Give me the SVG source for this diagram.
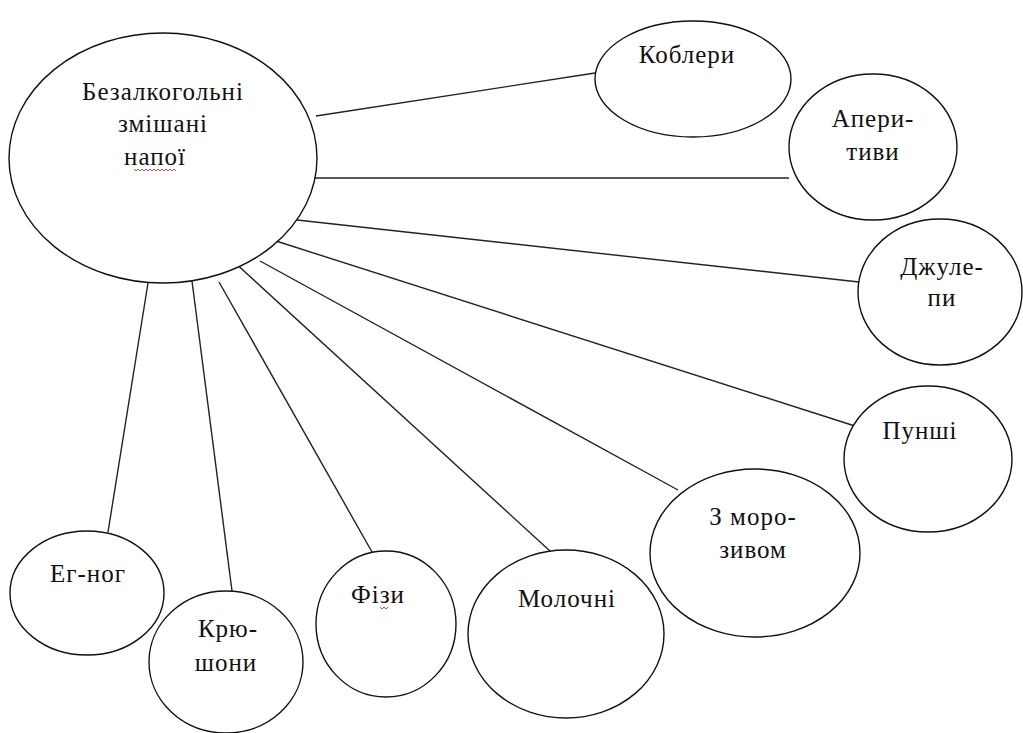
<svg xmlns="http://www.w3.org/2000/svg" width="1023" height="733" viewBox="0 0 1023 733">
<style>
.n{fill:#fff;stroke:#111;stroke-width:1.4}
.c line{stroke:#222;stroke-width:1.4}
.t{font-family:'Liberation Serif','Times New Roman','DejaVu Serif',serif;font-size:25px;fill:#111;text-anchor:middle;letter-spacing:1px}
.sq{fill:none;stroke:#d33;stroke-width:0.9}
</style>
<rect width="1023" height="733" fill="#fff"/>
<g id="connectors" class="c">
<line x1="316" y1="116" x2="595" y2="73"/>
<line x1="315" y1="178" x2="789" y2="178"/>
<line x1="288" y1="219" x2="859" y2="282"/>
<line x1="276" y1="241" x2="858" y2="427"/>
<line x1="260" y1="261" x2="678" y2="490"/>
<line x1="233" y1="261" x2="550" y2="551"/>
<line x1="219" y1="282" x2="372" y2="552"/>
<line x1="192" y1="281" x2="232" y2="591"/>
<line x1="148" y1="283" x2="108" y2="532"/>
</g>
<g id="main">
<ellipse class="n" cx="163" cy="158" rx="154" ry="125"/>
<text class="t" x="163" y="100">Безалкогольні</text>
<text class="t" x="163" y="132">змішані</text>
<text class="t" x="155" y="165">напої</text>
<path class="sq" d="M134 169 l2 2 l2 -2 l2 2 l2 -2 l2 2 l2 -2 l2 2 l2 -2 l2 2 l2 -2 l2 2 l2 -2 l2 2 l2 -2 l2 2 l2 -2 l2 2 l2 -2 l2 2 l2 -2 l2 2"/>
</g>
<g id="koblery">
<ellipse class="n" cx="693" cy="79" rx="98" ry="58"/>
<text class="t" x="687" y="63">Коблери</text>
</g>
<g id="aperytyvy">
<ellipse class="n" cx="873" cy="147" rx="84" ry="73"/>
<text class="t" x="873" y="127">Апери-</text>
<text class="t" x="873" y="160">тиви</text>
</g>
<g id="dzhulepy">
<ellipse class="n" cx="940" cy="292" rx="82" ry="73"/>
<text class="t" x="942" y="275">Джуле-</text>
<text class="t" x="942" y="306">пи</text>
</g>
<g id="punshi">
<ellipse class="n" cx="928" cy="459" rx="84" ry="73"/>
<text class="t" x="920" y="439">Пунші</text>
</g>
<g id="z-morozyvom">
<ellipse class="n" cx="755" cy="553" rx="105" ry="84"/>
<text class="t" x="753" y="525">З моро-</text>
<text class="t" x="753" y="558">зивом</text>
</g>
<g id="molochni">
<ellipse class="n" cx="566" cy="634" rx="98" ry="84"/>
<text class="t" x="567" y="607">Молочні</text>
</g>
<g id="fizy">
<ellipse class="n" cx="386" cy="624" rx="70" ry="73"/>
<text class="t" x="378" y="603">Фізи</text>
<path class="sq" d="M380 607 l2 2 l2 -2 l2 2 l2 -2"/>
</g>
<g id="kryushony">
<ellipse class="n" cx="226" cy="662" rx="77" ry="71"/>
<text class="t" x="228" y="637">Крю-</text>
<text class="t" x="226" y="671">шони</text>
</g>
<g id="eg-nog">
<ellipse class="n" cx="87" cy="593" rx="77" ry="62"/>
<text class="t" x="88" y="582">Ег-ног</text>
</g>
</svg>
